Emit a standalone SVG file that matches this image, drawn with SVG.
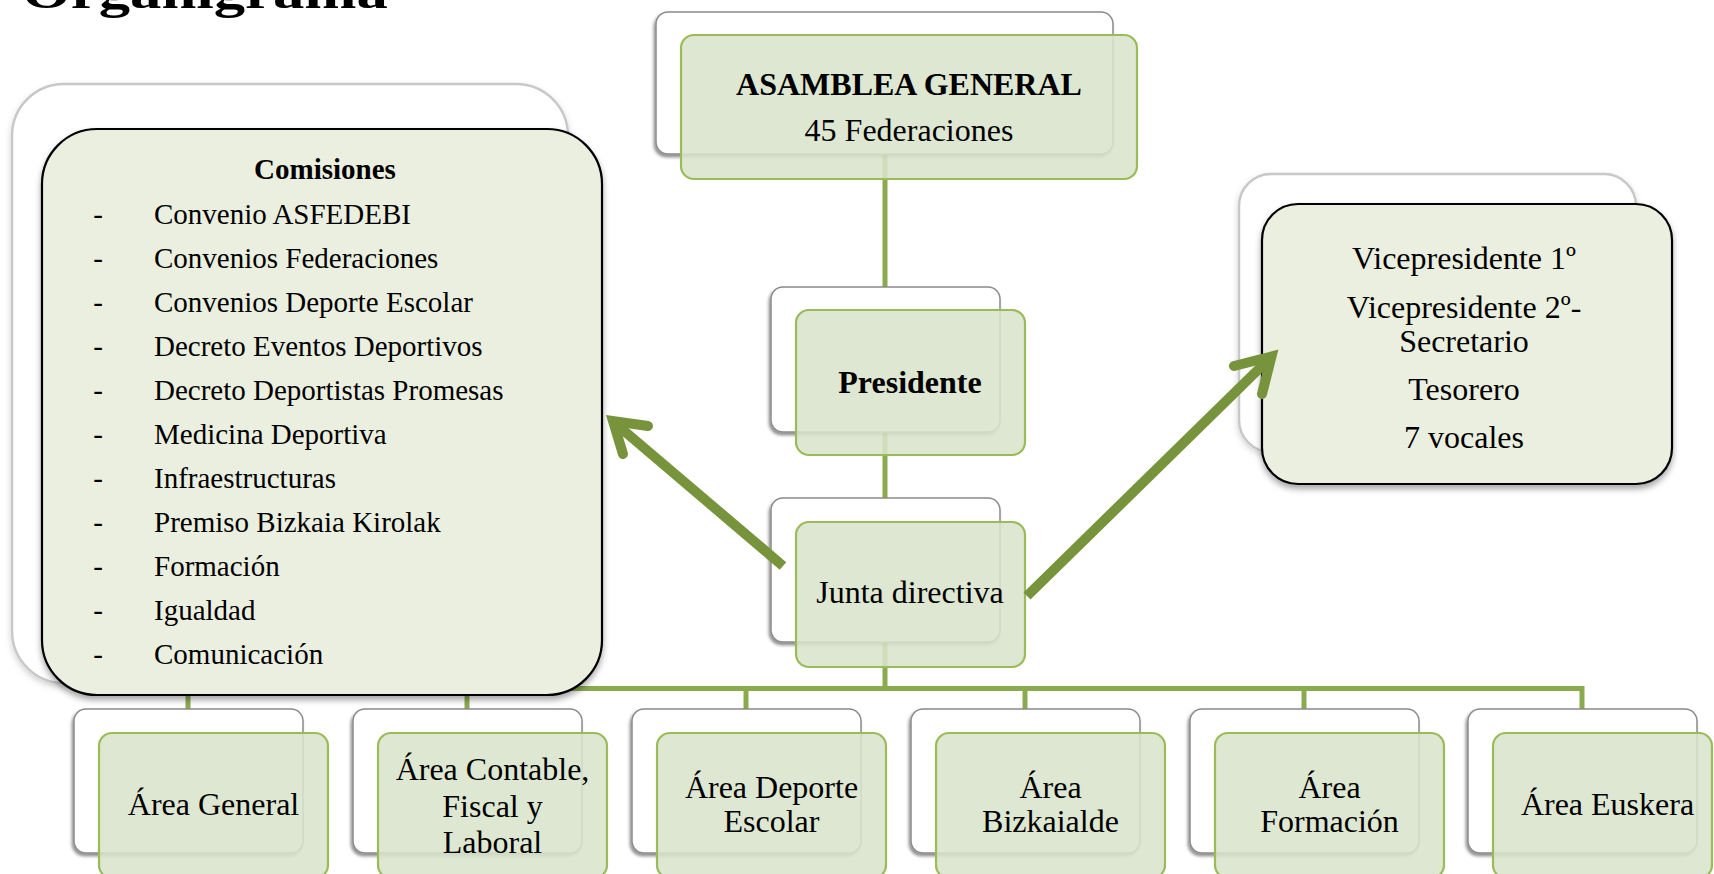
<svg xmlns="http://www.w3.org/2000/svg" width="1714" height="874" viewBox="0 0 1714 874">
<defs>
<filter id="sh" x="-10%" y="-10%" width="120%" height="130%">
<feDropShadow dx="-1.5" dy="2.5" stdDeviation="1.8" flood-color="#000" flood-opacity="0.45"/>
</filter>
<filter id="sh2" x="-10%" y="-10%" width="120%" height="130%">
<feDropShadow dx="0" dy="4" stdDeviation="3" flood-color="#000" flood-opacity="0.35"/>
</filter>
<filter id="sh3" x="-10%" y="-10%" width="120%" height="130%">
<feDropShadow dx="0" dy="3" stdDeviation="3" flood-color="#000" flood-opacity="0.18"/>
</filter>
</defs>
<style>
text{font-family:"Liberation Serif","Times New Roman",serif;fill:#000}
.t{font-size:32px;text-anchor:middle}
.b{font-weight:bold}
.l{font-size:29px}
.d{font-size:29px;text-anchor:middle}
.back{fill:#fff;stroke:#8a8a8a;stroke-width:1.5;filter:url(#sh)}
.front{fill:#dae4cb;fill-opacity:0.88;stroke:#9bbb59;stroke-width:2.2}
.bigback{fill:#fff;stroke:#c8c8c8;stroke-width:2.5;filter:url(#sh3)}
.bigfront{fill:#ebefdf;stroke:#000;stroke-width:2.2;filter:url(#sh2)}
.con{fill:none;stroke:#8aaa4e;stroke-width:5;stroke-linejoin:miter}
.arr{fill:none;stroke:#77933c;stroke-width:10}
</style>

<text x="22" y="8" font-size="46" font-weight="bold" textLength="366" lengthAdjust="spacingAndGlyphs">Organigrama</text>

<g id="connectors">
<line class="con" x1="885" y1="150" x2="885" y2="690"/>
<polyline class="con" points="188,712 188,688.5 1582,688.5 1582,712"/>
<line class="con" x1="467" y1="688" x2="467" y2="712"/>
<line class="con" x1="746" y1="688" x2="746" y2="712"/>
<line class="con" x1="1025" y1="688" x2="1025" y2="712"/>
<line class="con" x1="1304" y1="688" x2="1304" y2="712"/>
</g>

<g id="asamblea">
<rect class="back" x="656" y="12" width="457" height="142" rx="12"/>
<rect class="front" x="681" y="35" width="456" height="144" rx="13"/>
<text class="t b" x="909" y="95">ASAMBLEA GENERAL</text>
<text class="t" x="909" y="141">45 Federaciones</text>
</g>

<g id="presidente">
<rect class="back" x="771" y="287" width="229" height="145" rx="12"/>
<rect class="front" x="796" y="310" width="229" height="145" rx="13"/>
<text class="t b" x="910" y="393">Presidente</text>
</g>

<g id="junta">
<rect class="back" x="771" y="498" width="229" height="144" rx="12"/>
<rect class="front" x="796" y="522" width="229" height="145" rx="13"/>
<text class="t" x="910" y="603">Junta directiva</text>
</g>

<g id="comisiones">
<rect class="bigback" x="12" y="84" width="556" height="599" rx="52"/>
<rect class="bigfront" x="42" y="129" width="560" height="566" rx="55"/>
<text class="b" x="325" y="179" font-size="29" text-anchor="middle">Comisiones</text>
<g>
<text class="d" x="98" y="224">-</text><text class="l" x="154" y="224">Convenio ASFEDEBI</text>
<text class="d" x="98" y="268">-</text><text class="l" x="154" y="268">Convenios Federaciones</text>
<text class="d" x="98" y="312">-</text><text class="l" x="154" y="312">Convenios Deporte Escolar</text>
<text class="d" x="98" y="356">-</text><text class="l" x="154" y="356">Decreto Eventos Deportivos</text>
<text class="d" x="98" y="400">-</text><text class="l" x="154" y="400">Decreto Deportistas Promesas</text>
<text class="d" x="98" y="444">-</text><text class="l" x="154" y="444">Medicina Deportiva</text>
<text class="d" x="98" y="488">-</text><text class="l" x="154" y="488">Infraestructuras</text>
<text class="d" x="98" y="532">-</text><text class="l" x="154" y="532">Premiso Bizkaia Kirolak</text>
<text class="d" x="98" y="576">-</text><text class="l" x="154" y="576">Formación</text>
<text class="d" x="98" y="620">-</text><text class="l" x="154" y="620">Igualdad</text>
<text class="d" x="98" y="664">-</text><text class="l" x="154" y="664">Comunicación</text>
</g>
</g>

<g id="vicepresidentes">
<rect class="bigback" x="1239" y="174" width="397" height="278" rx="32"/>
<rect class="bigfront" x="1262" y="204" width="410" height="280" rx="36"/>
<text class="t" x="1464" y="269">Vicepresidente 1º</text>
<text class="t" x="1464" y="318">Vicepresidente 2º-</text>
<text class="t" x="1464" y="352">Secretario</text>
<text class="t" x="1464" y="400">Tesorero</text>
<text class="t" x="1464" y="448">7 vocales</text>
</g>

<g id="area-general">
<rect class="back" x="74" y="709" width="229" height="144" rx="12"/>
<rect class="front" x="99" y="733" width="229" height="145" rx="13"/>
<text class="t" x="213.5" y="815">Área General</text>
</g>

<g id="area-contable">
<rect class="back" x="353" y="709" width="229" height="144" rx="12"/>
<rect class="front" x="378" y="733" width="229" height="145" rx="13"/>
<text class="t" x="492.5" y="780">Área Contable,</text>
<text class="t" x="492.5" y="817">Fiscal y</text>
<text class="t" x="492.5" y="853">Laboral</text>
</g>

<g id="area-deporte-escolar">
<rect class="back" x="632" y="709" width="229" height="144" rx="12"/>
<rect class="front" x="657" y="733" width="229" height="145" rx="13"/>
<text class="t" x="771.5" y="798">Área Deporte</text>
<text class="t" x="771.5" y="832">Escolar</text>
</g>

<g id="area-bizkaialde">
<rect class="back" x="911" y="709" width="229" height="144" rx="12"/>
<rect class="front" x="936" y="733" width="229" height="145" rx="13"/>
<text class="t" x="1050.5" y="798">Área</text>
<text class="t" x="1050.5" y="832">Bizkaialde</text>
</g>

<g id="area-formacion">
<rect class="back" x="1190" y="709" width="229" height="144" rx="12"/>
<rect class="front" x="1215" y="733" width="229" height="145" rx="13"/>
<text class="t" x="1329.5" y="798">Área</text>
<text class="t" x="1329.5" y="832">Formación</text>
</g>

<g id="area-euskera">
<rect class="back" x="1468" y="709" width="229" height="144" rx="12"/>
<rect class="front" x="1493" y="733" width="219" height="145" rx="13"/>
<text class="t" x="1607.5" y="815">Área Euskera</text>
</g>

<g id="arrows">
<line class="arr" x1="783" y1="566" x2="616" y2="424" stroke-linecap="butt"/>
<polyline class="arr" points="648,426 613,421 623,454" stroke-linecap="round" stroke-linejoin="miter" stroke-miterlimit="10"/>
<line class="arr" x1="1027" y1="596" x2="1268" y2="360" stroke-linecap="butt"/>
<polyline class="arr" points="1234,366 1271.5,356.5 1262,394" stroke-linecap="round" stroke-linejoin="miter" stroke-miterlimit="10"/>
</g>
</svg>
